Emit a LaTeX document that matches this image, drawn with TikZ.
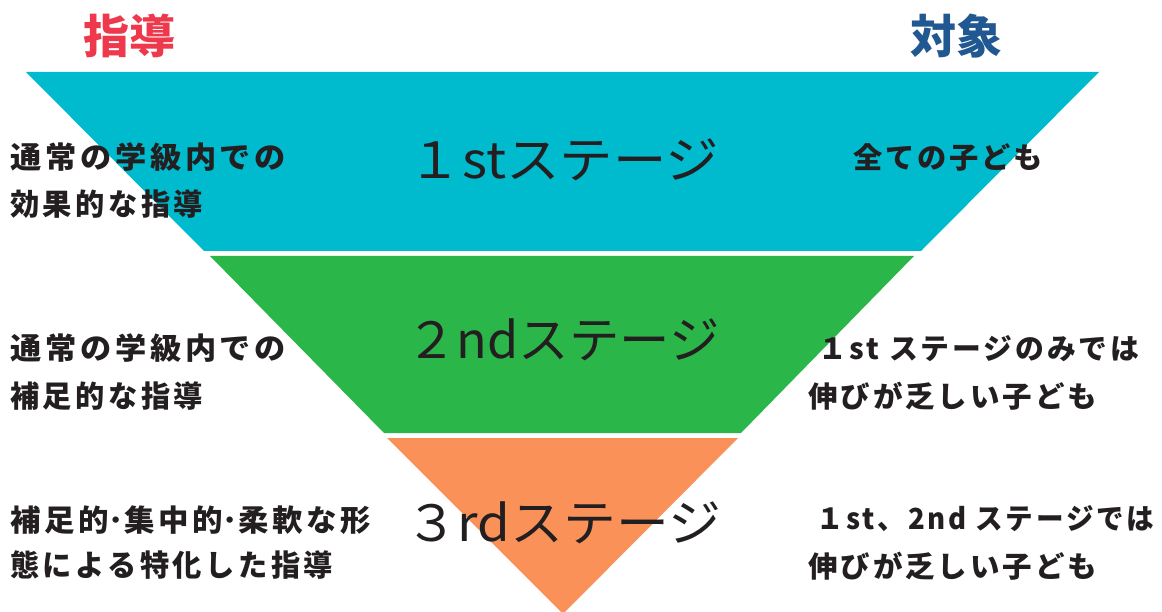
\documentclass[tikz,border=0pt]{standalone}
\usepackage{graphicx}
\usepackage{fontspec}
\newfontfamily\jp{Noto Sans CJK JP}
\newfontfamily\jpl{Noto Sans CJK JP}[LetterSpace=12]
\newfontfamily\jpr{Noto Sans CJK JP}[LetterSpace=10]
\newcommand\fitw[2]{\resizebox{#1}{\height}{#2}}
\newcommand\hdot{\makebox[15pt]{･}}
\definecolor{cyanband}{RGB}{0,186,206}
\definecolor{greenband}{RGB}{43,182,74}
\definecolor{orangeband}{RGB}{249,145,88}
\definecolor{titlered}{RGB}{238,56,76}
\definecolor{titleblue}{RGB}{33,88,145}
\definecolor{ink}{RGB}{35,31,32}
\tikzset{
  title/.style={font=\jp\bfseries\fontsize{46}{50}\selectfont, inner sep=0pt},
  stagelbl/.style={font=\jp\fontsize{50}{54}\selectfont, text=ink, inner sep=0pt},
  lefttxt/.style={font=\jpl\bfseries\fontsize{30}{34}\selectfont, text=ink, inner sep=0pt, anchor=west},
  righttxt/.style={font=\jpr\bfseries\fontsize{29}{33}\selectfont, text=ink, inner sep=0pt, anchor=west},
}
\begin{document}
\begin{tikzpicture}[x=1pt,y=-1pt]
\useasboundingbox (0,0) rectangle (1162,612);
% bands
\fill[cyanband] (26,72) -- (1099,72) -- (921,251) -- (204,251) -- cycle;
\fill[greenband] (210,256) -- (914,256) -- (741,433) -- (384,433) -- cycle;
\fill[orangeband] (387,438) -- (738,438) -- (563,614) -- cycle;
% titles
\node[title, text=titlered] (t1) at (129,36) {指導};
\node[title, text=titleblue] (t2) at (956,36) {対象};
% stage labels
\node[stagelbl] (s1) at (564,160) {\fitw{310pt}{１stステージ}};
\node[stagelbl] (s2) at (563,340) {\fitw{313pt}{２ndステージ}};
\node[stagelbl] (s3) at (563,523) {\fitw{316pt}{３rdステージ}};
% left texts
\node[lefttxt] (l1a) at (10,157) {\fitw{276pt}{通常の学級内での}};
\node[lefttxt] (l1b) at (10,204) {\fitw{193pt}{効果的な指導}};
\node[lefttxt] (l2a) at (10,348) {\fitw{276pt}{通常の学級内での}};
\node[lefttxt] (l2b) at (10,396) {\fitw{193pt}{補足的な指導}};
\node[lefttxt] (l3a) at (10,520) {\fitw{361pt}{補足的\hdot 集中的\hdot 柔軟な形}};
\node[lefttxt] (l3b) at (10,565) {\fitw{323pt}{態による特化した指導}};
% right texts
\node[righttxt] (r1) at (853,157) {\fitw{190pt}{全ての子ども}};
\node[righttxt] (r2a) at (818,349) {\fitw{321pt}{１st ステージのみでは}};
\node[righttxt] (r2b) at (808,396) {\fitw{289pt}{伸びが乏しい子ども}};
\node[righttxt] (r3a) at (816,519) {\fitw{338pt}{１st、2nd ステージでは}};
\node[righttxt] (r3b) at (808,566) {\fitw{289pt}{伸びが乏しい子ども}};
\end{tikzpicture}
\end{document}
